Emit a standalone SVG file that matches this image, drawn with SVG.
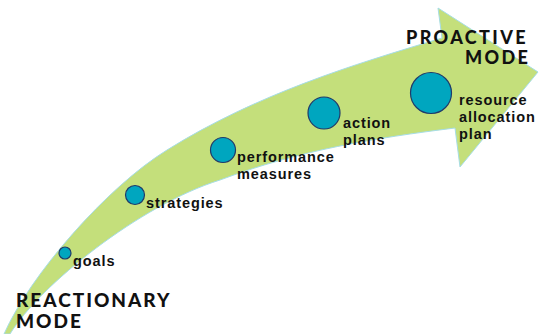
<svg xmlns="http://www.w3.org/2000/svg" width="540" height="334" viewBox="0 0 540 334">
  <style>
    .band { fill: #c4df7b; stroke: #a6dde6; stroke-width: 1; stroke-linejoin: miter; }
    .dot { fill: #00a6bf; stroke: #1f3a6b; stroke-width: 1.2; }
    .label { font-family: "Liberation Sans", Arial, sans-serif; font-weight: 700; font-size: 14.5px; letter-spacing: 0.9px; fill: #111; }
    .mode { font-family: Lato, "Liberation Sans", sans-serif; font-weight: 900; font-size: 19px; fill: #111; letter-spacing: 2px; }
  </style>

  <!-- curved progression arrow -->
  <g id="arrow">
    <path class="band" d="M4,334 C30,275 107,187 167,150 C257,94 352,65 442,38 L438,8 L538,72 L460,167 L455,128 C375,138 300,150 220,180 C140,205 40,285 10,334 Z"/>
  </g>

  <g id="connectors"></g>

  <!-- stages along the arrow -->
  <g id="goals">
    <circle class="dot" cx="65" cy="253" r="6"/>
    <text class="label" x="73" y="266">goals</text>
  </g>
  <g id="strategies">
    <circle class="dot" cx="135" cy="195" r="9.5"/>
    <text class="label" x="146" y="208">strategies</text>
  </g>
  <g id="performance-measures">
    <circle class="dot" cx="223" cy="150" r="12.5"/>
    <text class="label" x="237" y="162">performance</text>
    <text class="label" x="237" y="179">measures</text>
  </g>
  <g id="action-plans">
    <circle class="dot" cx="324" cy="113" r="16"/>
    <text class="label" x="343" y="128">action</text>
    <text class="label" x="343" y="145">plans</text>
  </g>
  <g id="resource-allocation-plan">
    <circle class="dot" cx="431" cy="93" r="20.5"/>
    <text class="label" x="459" y="105">resource</text>
    <text class="label" x="459" y="122">allocation</text>
    <text class="label" x="459" y="139">plan</text>
  </g>

  <!-- mode captions -->
  <g id="reactionary-mode">
    <text class="mode" x="16" y="307">REACTIONARY</text>
    <text class="mode" x="16" y="328">MODE</text>
  </g>
  <g id="proactive-mode">
    <text class="mode" x="406" y="44" style="font-size:18px;letter-spacing:2.4px">PROACTIVE</text>
    <text class="mode" x="465" y="64" style="font-size:18px;letter-spacing:2.4px">MODE</text>
  </g>
</svg>
